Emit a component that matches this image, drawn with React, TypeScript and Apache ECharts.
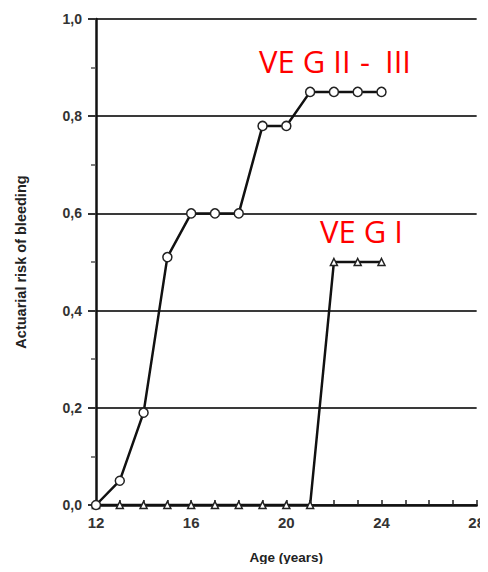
import React, { useEffect, useRef } from "react";
import * as echarts from "echarts";

// Age in years and actuarial risk of bleeding per group
const ages = [12, 13, 14, 15, 16, 17, 18, 19, 20, 21, 22, 23, 24];
const riskGradeII_III = [0, 0.05, 0.19, 0.51, 0.6, 0.6, 0.6, 0.78, 0.78, 0.85, 0.85, 0.85, 0.85];
const riskGradeI = [0, 0, 0, 0, 0, 0, 0, 0, 0, 0, 0.5, 0.5, 0.5];
const xLabelAges = [12, 16, 20, 24, 28];

const labelFont = "Liberation Sans, Arial, sans-serif";
const redFont = "31px 'Open Sans', sans-serif";

export default function App() {
  const ref = useRef<HTMLDivElement>(null);

  useEffect(() => {
    if (!ref.current) return;
    const chart = echarts.init(ref.current, undefined, { renderer: "svg" });
    const pairs = (ys: number[]) => ages.map((a, i) => [a, ys[i]]);
    chart.setOption({
      animation: false,
      backgroundColor: "#ffffff",
      grid: { left: 96, right: 9, top: 19, bottom: 67 },
      xAxis: {
        type: "value",
        min: 12,
        max: 28,
        interval: 1,
        name: "Age (years)",
        nameLocation: "middle",
        nameGap: 45,
        nameTextStyle: { fontFamily: labelFont, fontSize: 13.5, fontWeight: "bold", color: "#222" },
        axisLine: { onZero: false, lineStyle: { color: "#111", width: 2.5 } },
        axisTick: { inside: true, length: 5, lineStyle: { color: "#222", width: 1.5 } },
        axisLabel: {
          fontFamily: labelFont,
          fontSize: 15,
          fontWeight: "bold",
          color: "#333",
          margin: 10,
          formatter: (v: number) => (xLabelAges.includes(v) ? String(v) : ""),
        },
        splitLine: { show: false },
      },
      yAxis: {
        type: "value",
        min: 0,
        max: 1,
        interval: 0.2,
        name: "Actuarial risk of bleeding",
        nameLocation: "middle",
        nameGap: 68,
        nameTextStyle: { fontFamily: labelFont, fontSize: 14.5, fontWeight: "bold", color: "#222" },
        axisLine: { show: true, lineStyle: { color: "#111", width: 2.5 } },
        axisTick: { show: true, length: 8, lineStyle: { color: "#333", width: 2 } },
        minorTick: { show: true, splitNumber: 2, length: 5, lineStyle: { color: "#555", width: 1.5 } },
        axisLabel: {
          fontFamily: labelFont,
          fontSize: 14,
          fontWeight: "bold",
          color: "#333",
          margin: 14,
          formatter: (v: number) => v.toFixed(1).replace(".", ","),
        },
        splitLine: { show: true, lineStyle: { color: "#3a3a3a", width: 2.2 } },
      },
      series: [
        {
          type: "line",
          data: pairs(riskGradeI),
          symbol: "triangle",
          symbolSize: 7,
          lineStyle: { color: "#111", width: 2.5 },
          itemStyle: { color: "#fff", borderColor: "#222", borderWidth: 1.5 },
          z: 3,
        },
        {
          type: "line",
          data: pairs(riskGradeII_III),
          symbol: "circle",
          symbolSize: 9,
          lineStyle: { color: "#111", width: 2.5 },
          itemStyle: { color: "#fff", borderColor: "#222", borderWidth: 1.5 },
          z: 4,
        },
      ],
      graphic: [
        { type: "text", left: 259, top: 45, style: { text: "VE G II", fill: "#ff0000", font: redFont } },
        { type: "text", left: 360, top: 45, style: { text: "-", fill: "#ff0000", font: redFont } },
        { type: "text", left: 385, top: 45, style: { text: "III", fill: "#ff0000", font: redFont } },
        { type: "text", left: 320, top: 215, style: { text: "VE G I", fill: "#ff0000", font: redFont } },
      ],
    });
    return () => chart.dispose();
  }, []);

  return <div ref={ref} style={{ width: 488, height: 572, margin: -8 }} />;
}
